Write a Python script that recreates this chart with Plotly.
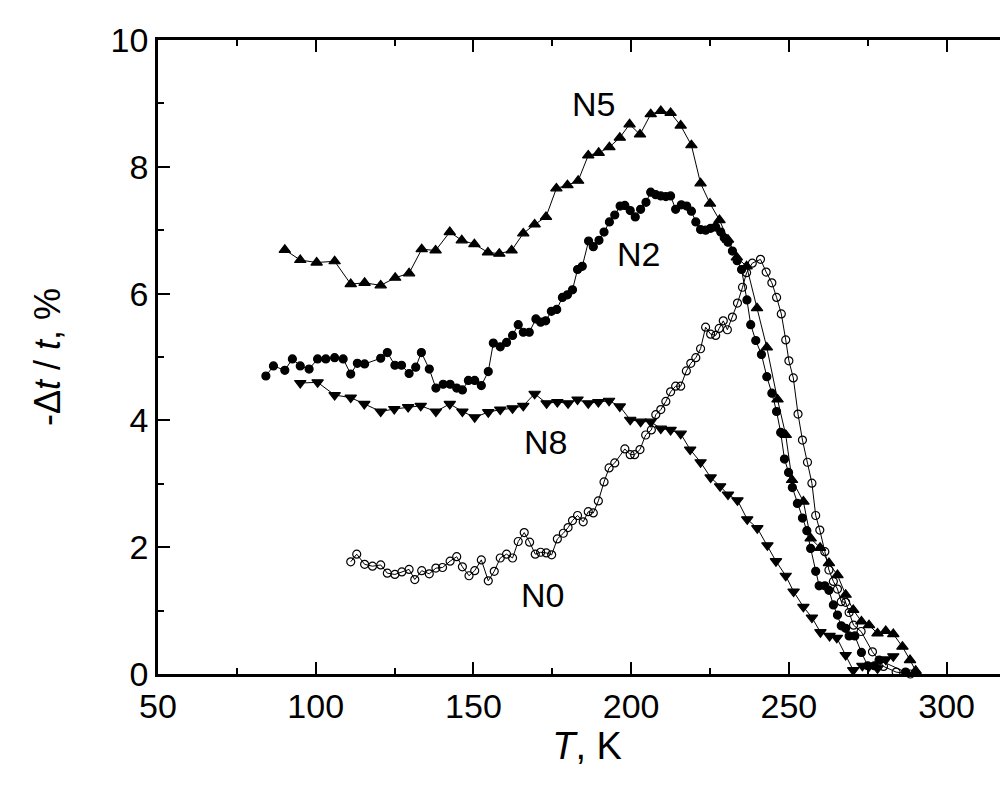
import plotly.graph_objects as go

# N5 (filled up-triangles)
t_n5 = [90.2, 95.1, 100.3, 106.0, 111.1, 115.5, 120.6, 125.2, 129.6, 133.6,
        138.0, 142.5, 146.3, 150.3, 154.6, 158.2, 162.1, 165.8, 169.4, 173.0,
        176.3, 179.8, 183.2, 186.4, 189.7, 193.1, 196.4, 199.5, 202.8, 206.2,
        209.4, 212.5, 215.7, 219.1, 222.0, 225.0, 228.0, 230.7, 233.5, 236.6,
        239.9, 243.0, 246.4, 249.0, 251.0, 254.6, 256.9, 259.9, 262.7, 265.4,
        268.0, 270.4, 273.0, 275.4, 278.1, 280.7, 283.1, 286.0, 288.4, 290.2]
v_n5 = [6.69, 6.53, 6.49, 6.51, 6.15, 6.17, 6.13, 6.25, 6.32, 6.70,
        6.68, 6.97, 6.84, 6.78, 6.65, 6.63, 6.68, 6.95, 7.09, 7.21,
        7.66, 7.71, 7.78, 8.18, 8.22, 8.31, 8.46, 8.67, 8.51, 8.83,
        8.88, 8.85, 8.65, 8.34, 7.74, 7.42, 7.16, 6.85, 6.57, 6.43,
        5.77, 5.15, 4.33, 3.77, 3.06, 2.72, 2.14, 1.99, 1.75, 1.56,
        1.25, 1.01, 0.83, 0.77, 0.64, 0.68, 0.63, 0.43, 0.22, 0.05]

# N2 (filled circles)
t_n2 = [84.2, 86.6, 90.2, 92.6, 95.1, 97.9, 100.6, 103.2, 106.0, 108.7,
        111.1, 113.2, 115.5, 120.6, 122.7, 125.1, 127.2, 129.6, 131.7, 133.5,
        136.0, 138.1, 140.4, 142.6, 144.7, 146.5, 148.4, 150.4, 152.5, 154.7,
        156.3, 158.5, 160.5, 162.4, 164.2, 165.8, 167.7, 169.8, 171.3, 172.9,
        174.7, 176.4, 178.2, 179.8, 181.4, 183.0, 184.5, 186.5, 188.0, 189.8,
        191.4, 193.1, 194.8, 196.5, 198.0, 199.7, 201.3, 203.0, 204.7, 206.2,
        207.8, 209.4, 211.0, 212.5, 214.1, 215.9, 217.6, 219.1, 220.5, 222.0,
        223.6, 225.2, 226.8, 228.4, 229.5, 230.7, 232.1, 233.6, 235.0, 236.7,
        237.9, 239.5, 241.3, 243.0, 244.6, 246.1, 247.4, 248.6, 249.9, 251.1,
        252.7, 254.3, 255.7, 256.9, 258.5, 259.6, 261.4, 262.7, 264.1, 265.4,
        266.6, 268.0, 269.1, 270.9, 273.0, 275.0, 277.1, 278.6, 287.0]
v_n2 = [4.70, 4.86, 4.79, 4.97, 4.86, 4.81, 4.97, 4.97, 4.99, 4.97,
        4.73, 4.90, 4.89, 4.98, 5.07, 4.87, 4.87, 4.74, 4.84, 5.07,
        4.81, 4.51, 4.57, 4.57, 4.51, 4.48, 4.63, 4.63, 4.55, 4.77,
        5.22, 5.16, 5.23, 5.34, 5.51, 5.39, 5.39, 5.60, 5.55, 5.57,
        5.72, 5.75, 5.94, 5.98, 6.06, 6.38, 6.43, 6.83, 6.74, 6.84,
        6.97, 7.13, 7.24, 7.38, 7.39, 7.31, 7.21, 7.33, 7.44, 7.60,
        7.56, 7.54, 7.53, 7.54, 7.33, 7.40, 7.38, 7.30, 7.13, 7.01,
        7.00, 7.03, 7.05, 6.97, 6.88, 6.81, 6.67, 6.52, 6.38, 5.90,
        5.51, 5.26, 5.04, 4.69, 4.43, 4.14, 3.81, 3.39, 3.18, 2.94,
        2.69, 2.46, 2.26, 1.98, 1.62, 1.39, 1.39, 1.32, 1.09, 0.93,
        0.76, 0.72, 0.60, 0.60, 0.34, 0.13, 0.13, 0.22, 0.03]

# N8 (filled down-triangles)
t_n8 = [95.1, 100.6, 106.0, 111.1, 115.4, 120.6, 124.9, 129.3, 133.3, 138.1,
        142.5, 146.5, 150.4, 154.7, 158.5, 162.4, 165.8, 169.4, 173.2, 176.6,
        180.0, 183.0, 186.4, 189.6, 193.0, 196.4, 199.7, 203.0, 206.2, 209.4,
        212.5, 215.7, 218.7, 222.0, 225.2, 228.2, 230.7, 233.7, 236.8, 240.0,
        243.2, 245.9, 249.0, 251.5, 254.6, 257.3, 260.0, 262.9, 265.2, 268.0,
        270.4, 273.3, 275.4, 278.1, 280.7, 283.1]
v_n8 = [4.59, 4.60, 4.40, 4.36, 4.26, 4.14, 4.18, 4.21, 4.23, 4.14,
        4.26, 4.14, 4.05, 4.13, 4.17, 4.19, 4.23, 4.42, 4.27, 4.29,
        4.27, 4.33, 4.27, 4.29, 4.31, 4.22, 4.01, 3.98, 3.98, 3.87,
        3.85, 3.79, 3.54, 3.34, 3.10, 2.96, 2.83, 2.74, 2.44, 2.30,
        2.03, 1.78, 1.55, 1.30, 1.06, 0.89, 0.66, 0.60, 0.57, 0.30,
        0.06, 0.13, 0.12, 0.09, 0.23, 0.28]

# N0 (open circles)
t_n0 = [111.1, 113.0, 115.5, 118.0, 120.6, 122.7, 125.1, 127.3, 129.6, 131.4,
        133.6, 136.0, 138.1, 140.2, 142.6, 144.7, 146.5, 148.6, 150.4, 152.5,
        154.7, 156.6, 158.5, 160.5, 162.4, 164.2, 166.1, 167.8, 169.6, 171.3,
        173.1, 174.8, 176.6, 178.5, 180.0, 181.4, 183.0, 184.8, 186.4, 188.0,
        189.6, 191.4, 193.0, 194.8, 198.0, 199.7, 201.1, 202.8, 204.6, 206.4,
        207.8, 209.4, 211.0, 212.5, 214.1, 215.7, 217.5, 218.9, 220.5, 222.0,
        223.6, 225.2, 226.8, 227.9, 229.2, 230.5, 232.1, 233.7, 235.3, 236.6,
        238.4, 241.0, 242.8, 244.6, 246.1, 247.6, 249.0, 250.0, 251.4, 252.9,
        254.3, 255.9, 257.3, 258.5, 259.8, 261.4, 262.7, 264.1, 265.4, 266.6,
        268.0, 269.1, 270.5, 272.9, 276.5, 280.0, 284.0, 288.5]
v_n0 = [1.77, 1.89, 1.73, 1.70, 1.72, 1.59, 1.57, 1.61, 1.65, 1.49,
        1.63, 1.58, 1.67, 1.68, 1.78, 1.85, 1.69, 1.55, 1.63, 1.80,
        1.47, 1.62, 1.83, 1.89, 1.83, 2.09, 2.23, 2.08, 1.89, 1.92,
        1.91, 1.88, 2.13, 2.22, 2.31, 2.42, 2.50, 2.40, 2.56, 2.54,
        2.73, 3.03, 3.25, 3.33, 3.55, 3.46, 3.46, 3.54, 3.77, 3.85,
        4.09, 4.17, 4.30, 4.45, 4.54, 4.54, 4.78, 4.90, 4.99, 5.13,
        5.47, 5.36, 5.34, 5.45, 5.57, 5.43, 5.63, 5.85, 6.10, 6.33,
        6.48, 6.54, 6.34, 6.17, 5.94, 5.68, 5.27, 4.94, 4.67, 4.10,
        3.69, 3.34, 3.01, 2.50, 2.27, 1.93, 1.64, 1.46, 1.34, 1.14,
        1.13, 0.97, 0.77, 0.67, 0.35, 0.12, 0.03, 0.00]

# curve labels
lab_text = ["N5", "N2", "N8", "N0"]
lab_x = [188.1, 202.3, 172.8, 171.9]
lab_y = [8.99, 6.63, 3.66, 1.24]

FONT = "Liberation Sans, Arial, sans-serif"

fig = go.Figure()

series = [
    (t_n5, v_n5, "triangle-up", 10),
    (t_n2, v_n2, "circle", 8),
    (t_n8, v_n8, "triangle-down", 10),
    (t_n0, v_n0, "circle-open", 8),
]
for (t, v, sym, sz), name in zip(series, lab_text):
    fig.add_trace(go.Scatter(
        x=t, y=v, mode="lines+markers", name=name,
        line=dict(color="black", width=1),
        marker=dict(symbol=sym, size=sz, color="black",
                    line=dict(color="black", width=1.2)),
        cliponaxis=False,
    ))

for txt, x, y in zip(lab_text, lab_x, lab_y):
    fig.add_annotation(x=x, y=y, text=txt, showarrow=False,
                       font=dict(family=FONT, size=34, color="black"))

fig.update_layout(
    width=1008, height=796,
    margin=dict(l=150, r=0, t=32, b=130),
    paper_bgcolor="white", plot_bgcolor="white",
    showlegend=False,
    font=dict(family=FONT, color="black"),
)

fig.update_xaxes(
    range=[50, 322], dtick=50, tick0=50,
    ticks="inside", ticklen=12, tickwidth=2, tickcolor="black",
    minor=dict(ticks="inside", ticklen=6, tickwidth=2, dtick=25, tick0=50, tickcolor="black"),
    showline=True, linewidth=2.5, linecolor="black", mirror="ticks",
    showgrid=False, zeroline=False,
    tickfont=dict(family=FONT, size=34),
    title=dict(text="<i>T</i>, K", font=dict(family=FONT, size=38), standoff=8),
)
fig.update_yaxes(
    range=[0, 10], dtick=2, tick0=0,
    ticks="inside", ticklen=12, tickwidth=2, tickcolor="black",
    minor=dict(ticks="inside", ticklen=6, tickwidth=2, dtick=1, tick0=0, tickcolor="black"),
    showline=True, linewidth=2.5, linecolor="black", mirror=False,
    showgrid=False, zeroline=False,
    tickfont=dict(family=FONT, size=34),
    title=dict(text="-Δ<i>t</i> / <i>t</i>, %", font=dict(family=FONT, size=36), standoff=40),
)

fig.write_html("out.html")
